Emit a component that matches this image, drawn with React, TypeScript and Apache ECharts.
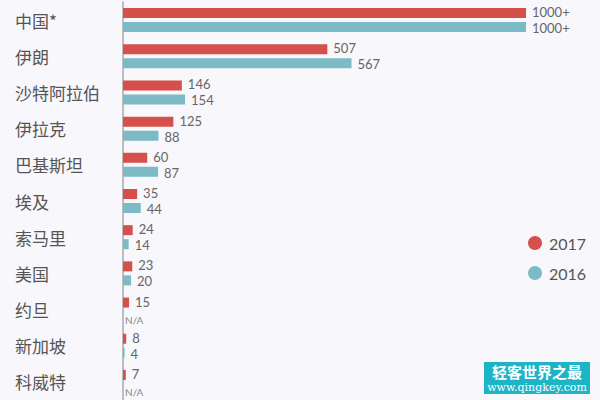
import React, { useEffect, useRef } from "react";
import * as echarts from "echarts";

const categories = ["中国*", "伊朗", "沙特阿拉伯", "伊拉克", "巴基斯坦", "埃及", "索马里", "美国", "约旦", "新加坡", "科威特"];
const values2017: (number | null)[] = [1000, 507, 146, 125, 60, 35, 24, 23, 15, 8, 7];
const values2016: (number | null)[] = [1000, 567, 154, 88, 87, 44, 14, 20, null, 4, null];
const seriesNames = ["2017", "2016"];
const colors = ["#d5504b", "#7cbac6"];

function buildData(arr: (number | null)[]) {
  return arr.map((v) =>
    v === null
      ? { value: 0, label: { formatter: "N/A", fontSize: 10, lineHeight: 10, color: "#888", distance: 2, offset: [0, 3] } }
      : v
  );
}

export default function App() {
  const ref = useRef<HTMLDivElement>(null);
  useEffect(() => {
    if (!ref.current) return;
    const chart = echarts.init(ref.current, null, { renderer: "svg" });
    const labelCfg = (dy: number) => ({
      show: true,
      position: "right",
      distance: 6,
      fontSize: 13,
      lineHeight: 13,
      offset: [0, dy],
      fontFamily: "Lato",
      color: "#666",
      formatter: (p: any) => (p.value >= 1000 ? "1000+" : String(p.value)),
    });
    chart.setOption({
      animation: false,
      backgroundColor: "#f8f7fb",
      grid: { left: 123, right: 74, top: 2, height: 406, containLabel: false },
      xAxis: { type: "value", min: 0, max: 1000, show: false },
      yAxis: {
        type: "category",
        inverse: true,
        data: categories,
        axisLine: { show: true, lineStyle: { color: "#aaa", width: 1.5 } },
        axisTick: { show: false },
        splitLine: { show: false },
        axisLabel: {
          align: "left",
          margin: 108,
          fontSize: 17,
          color: "#555",
          fontFamily: "Noto Sans CJK SC",
          padding: [0, 0, 7, 0],
        },
      },
      legend: {
        orient: "vertical",
        left: 523,
        top: 230,
        itemWidth: 14,
        itemHeight: 14,
        itemGap: 14,
        icon: "circle",
        data: seriesNames,
        textStyle: { fontSize: 16, color: "#555", fontFamily: "Lato", padding: [0, 0, 0, 2] },
      },
      series: [
        {
          name: seriesNames[0],
          type: "bar",
          data: buildData(values2017),
          barWidth: 10,
          barGap: "40%",
          itemStyle: { color: colors[0] },
          label: labelCfg(-1),
        },
        {
          name: seriesNames[1],
          type: "bar",
          data: buildData(values2016),
          barWidth: 10,
          barGap: "40%",
          itemStyle: { color: colors[1] },
          label: labelCfg(1),
        },
      ],
      graphic: [
        {
          type: "group",
          left: 484,
          top: 362,
          children: [
            { type: "rect", shape: { x: 0, y: 0, width: 106, height: 32 }, style: { fill: "#1cb4c6" } },
            {
              type: "text",
              x: 53,
              y: 9,
              style: {
                text: "轻客世界之最",
                fill: "#fff",
                font: "bold 15px 'Noto Sans CJK SC'",
                lineHeight: 15,
                align: "center",
                verticalAlign: "middle",
              },
            },
            {
              type: "text",
              x: 53,
              y: 25.5,
              style: {
                text: "www.qingkey.com",
                fill: "#fff",
                font: "11px 'DejaVu Serif'",
                lineHeight: 11,
                align: "center",
                verticalAlign: "middle",
              },
            },
          ],
        },
      ],
    });
    return () => chart.dispose();
  }, []);
  return <div ref={ref} style={{ position: "fixed", left: 0, top: 0, width: 600, height: 400 }} />;
}
